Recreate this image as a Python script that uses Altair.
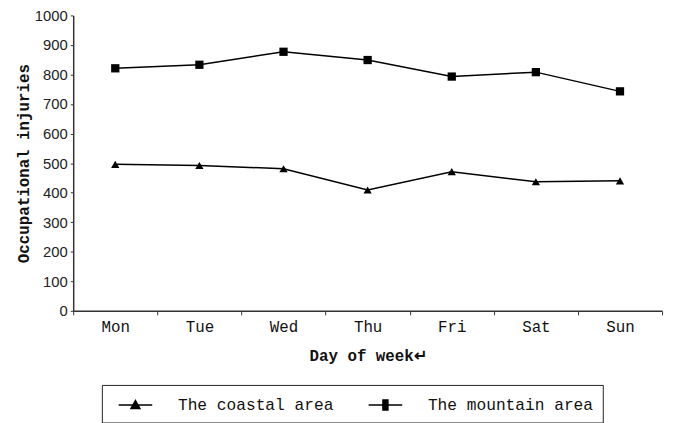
import altair as alt
import pandas as pd

days = ["Mon", "Tue", "Wed", "Thu", "Fri", "Sat", "Sun"]
coastal = [496, 492, 481, 409, 471, 437, 440]
mountain = [821, 833, 877, 849, 793, 808, 743]
series_names = ["The coastal area", "The mountain area"]

rows = []
for d, v in zip(days, coastal):
    rows.append({"day": d, "value": v, "series": series_names[0]})
for d, v in zip(days, mountain):
    rows.append({"day": d, "value": v, "series": series_names[1]})
df = pd.DataFrame(rows)

MONO = "Liberation Mono"
SANS = "Liberation Sans"

x_enc = alt.X("day:N", sort=days, scale=alt.Scale(domain=days, paddingInner=0, paddingOuter=0),
              axis=alt.Axis(title="Day of week↵", labelAngle=0, labelFont=MONO, labelFontSize=16,
                            labelColor="#111", titleFont=MONO, titleFontSize=16, titleFontWeight="bold",
                            titleColor="#111", tickBand="extent", tickSize=4, tickColor="#333",
                            domainColor="#333", domainWidth=1.5, labelPadding=4, titlePadding=13,
                            grid=False))
y_enc = alt.Y("value:Q", scale=alt.Scale(domain=[0, 1000], nice=False),
              axis=alt.Axis(title="Occupational injuries", values=list(range(0, 1001, 100)),
                            format="d",
                            labelFont=SANS, labelFontSize=15, labelColor="#222",
                            titleFont=MONO, titleFontSize=16, titleFontWeight="bold", titleColor="#111",
                            tickSize=3, tickColor="#333", domainColor="#333", domainWidth=1.5,
                            labelPadding=3, titlePadding=3, grid=False))

base = alt.Chart(df)

lines = base.mark_line(color="black", strokeWidth=1.5).encode(
    x=x_enc, y=y_enc, detail="series:N")

points = base.mark_point(filled=True, color="black", opacity=1, size=70).encode(
    x=x_enc, y=y_enc,
    shape=alt.Shape("series:N", scale=alt.Scale(domain=series_names, range=["triangle-up", "square"]),
                    legend=None))

# legend glyphs: a horizontal line with a solid marker, drawn with strokes only
tri = "M-1.7,0H1.7M0,-0.45L0.45,0.35L-0.45,0.35Z"
for yy, ww in [(-0.35, 0.06), (-0.25, 0.11), (-0.15, 0.17), (-0.05, 0.23),
               (0.05, 0.28), (0.15, 0.34), (0.25, 0.39), (0.35, 0.45)]:
    tri += f"M{-ww},{yy}H{ww}"
sq = "M-1.7,0H1.7M-0.25,-0.5H0.25V0.5H-0.25Z"
for xx in [-0.2, -0.1, 0, 0.1, 0.2]:
    sq += f"M{xx},-0.5V0.5"
leg_paths = [tri, sq]

legend_layer = base.transform_filter("datum.value < 0").mark_point(
    filled=False, stroke="black", strokeWidth=1.5, opacity=1).encode(
    x=x_enc, y=y_enc,
    shape=alt.Shape("series:N", scale=alt.Scale(domain=series_names, range=leg_paths),
                    legend=alt.Legend(title=None, orient="none", direction="horizontal",
                                      legendX=29, legendY=374,
                                      labelFont=MONO, labelFontSize=16.4, labelColor="#111",
                                      symbolSize=400,
                                      symbolStrokeColor="black", symbolStrokeWidth=1.5,
                                      symbolOffset=14,
                                      strokeColor="#222", padding=9, columnPadding=27,
                                      labelOffset=32, labelLimit=300)))

chart = alt.layer(lines, points, legend_layer).resolve_scale(shape="independent").properties(
    width=596, height=299,
    padding={"left": 66, "top": 5, "right": 5, "bottom": 111},
    autosize=alt.AutoSizeParams(type="none"),
).configure_view(stroke=None)

chart.save("out.html", embed_options={"renderer": "svg", "actions": False})
